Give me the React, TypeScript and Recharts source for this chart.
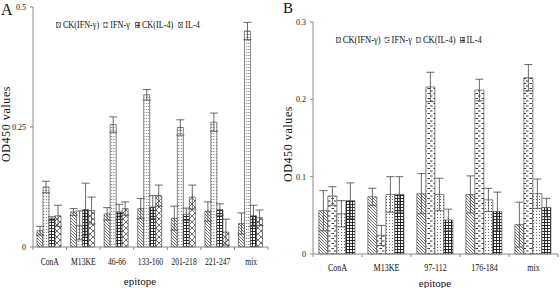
import React from 'react';
import { BarChart, Bar, XAxis, YAxis, ErrorBar } from 'recharts';

// panel A
const epitopeA = ['ConA', 'M13KE', '46-66', '133-160', '201-218', '221-247', 'mix'];
const ckIfnA = [0.034, 0.073, 0.069, 0.08, 0.06, 0.074, 0.049];
const ckIfnAErr = [0.009, 0.007, 0.013, 0.021, 0.025, 0.02, 0.022];
const ifnA = [0.125, 0.045, 0.255, 0.317, 0.249, 0.26, 0.45];
const ifnAErr = [0.012, 0.03, 0.016, 0.011, 0.016, 0.019, 0.018];
const ckIl4A = [0.059, 0.078, 0.073, 0.083, 0.068, 0.078, 0.065];
const ckIl4AErr = [0.004, 0.055, 0.016, 0.024, 0.013, 0.012, 0.022];
const il4A = [0.065, 0.076, 0.08, 0.107, 0.104, 0.031, 0.061];
const il4AErr = [0.022, 0.028, 0.014, 0.022, 0.025, 0.027, 0.016];
const ticksA = [0, 0.25, 0.5];

// panel B
const epitopeB = ['ConA', 'M13KE', '97-112', '176-184', 'mix'];
const ckIfnB = [0.056, 0.074, 0.078, 0.077, 0.038];
const ckIfnBErr = [0.026, 0.011, 0.026, 0.024, 0.029];
const ifnB = [0.075, 0.024, 0.216, 0.212, 0.228];
const ifnBErr = [0.012, 0.013, 0.019, 0.014, 0.017];
const ckIl4B = [0.052, 0.077, 0.077, 0.07, 0.078];
const ckIl4BErr = [0.017, 0.023, 0.021, 0.015, 0.019];
const il4B = [0.069, 0.077, 0.044, 0.055, 0.06];
const il4BErr = [0.023, 0.023, 0.014, 0.025, 0.012];
const ticksB = [0, 0.1, 0.2, 0.3];

const seriesNames = ['CK(IFN-\u03b3)', 'IFN-\u03b3', 'CK(IL-4)', 'IL-4'];

const dataA = epitopeA.map((name, i) => ({
  name,
  s1: ckIfnA[i], e1: ckIfnAErr[i],
  s2: ifnA[i], e2: ifnAErr[i],
  s3: ckIl4A[i], e3: ckIl4AErr[i],
  s4: il4A[i], e4: il4AErr[i],
}));

const dataB = epitopeB.map((name, i) => ({
  name,
  s1: ckIfnB[i], e1: ckIfnBErr[i],
  s2: ifnB[i], e2: ifnBErr[i],
  s3: ckIl4B[i], e3: ckIl4BErr[i],
  s4: il4B[i], e4: il4BErr[i],
}));

const FONT = '"Liberation Serif", "Times New Roman", serif';
const AXIS = '#8a8a8a';

const Patterns = () => (
  <defs>
    <pattern id="pHatch" width="3" height="3" patternUnits="userSpaceOnUse">
      <rect width="3" height="3" fill="#fff" />
      <path d="M0,0 L3,3 M-1,2 L1,4 M2,-1 L4,1" stroke="#333" strokeWidth="0.7" />
    </pattern>
    <pattern id="pDotsA" width="2.5" height="3" patternUnits="userSpaceOnUse">
      <rect width="2.5" height="3" fill="#fff" />
      <rect x="1" y="1" width="0.9" height="0.9" fill="#444" />
    </pattern>
    <pattern id="pGrid" width="3" height="3" patternUnits="userSpaceOnUse">
      <rect width="3" height="3" fill="#fff" />
      <path d="M0,0.5 H3 M0.5,0 V3" stroke="#1a1a1a" strokeWidth="0.9" />
    </pattern>
    <pattern id="pCross" width="6" height="6" patternUnits="userSpaceOnUse">
      <rect width="6" height="6" fill="#fff" />
      <path d="M0,0 L6,6 M6,0 L0,6" stroke="#333" strokeWidth="0.7" />
    </pattern>
    <pattern id="pDash" width="6" height="5" patternUnits="userSpaceOnUse">
      <rect width="6" height="5" fill="#fff" />
      <path d="M0,1 H2.5 M3.5,3.5 H6" stroke="#222" strokeWidth="0.9" />
    </pattern>
    <pattern id="pDotsB" width="3" height="3" patternUnits="userSpaceOnUse">
      <rect width="3" height="3" fill="#fff" />
      <rect x="1" y="1" width="0.9" height="0.9" fill="#444" />
    </pattern>
  </defs>
);

const fillsA = ['url(#pHatch)', 'url(#pDotsA)', 'url(#pGrid)', 'url(#pCross)'];
const fillsB = ['url(#pHatch)', 'url(#pDash)', 'url(#pDotsB)', 'url(#pGrid)'];

const makeTick = (band: number, labelDy: number, fontSize: number) => (props: any) => {
  const { x, y, payload, index } = props;
  return (
    <g>
      <line x1={x + band / 2} y1={y} x2={x + band / 2} y2={y + 3} stroke={AXIS} />
      {index === 0 && <line x1={x - band / 2} y1={y} x2={x - band / 2} y2={y + 3} stroke={AXIS} />}
      <text
        x={x}
        y={y + labelDy}
        textAnchor="middle"
        fontSize={fontSize}
        fontFamily={FONT}
        fill="#111"
        transform={`translate(${x * 0.2},0) scale(0.8,1)`}
      >
        {payload.value}
      </text>
    </g>
  );
};

const LegendBox = ({ fills, gaps, fontSize, left, top, squeeze }: any) => (
  <div
    style={{
      position: 'absolute', left, top, display: 'flex', alignItems: 'center', fontFamily: FONT, fontSize,
      color: '#111', whiteSpace: 'nowrap', transform: `scaleX(${squeeze})`, transformOrigin: 'left center',
    }}
  >
    {seriesNames.map((n, i) => (
      <span key={n} style={{ display: 'flex', alignItems: 'center', marginRight: gaps[i] }}>
        <svg width={6} height={6} style={{ marginRight: 2 }}>
          <rect x={0.5} y={0.5} width={5} height={5} fill={fills[i]} stroke="#333" strokeWidth={0.6} />
        </svg>
        <span>{n}</span>
      </span>
    ))}
  </div>
);

const Panel = ({ data, fills, ticks, max, top, right, bottom, tickDy, tickFont }: any) => {
  const plotW = 280 - 33 - right;
  const band = plotW / data.length;
  return (
    <BarChart width={280} height={288} data={data} margin={{ top, right, bottom: 0, left: 0 }} barGap={0} barCategoryGap="12%">
      <Patterns />
      <XAxis
        dataKey="name"
        height={bottom}
        stroke={AXIS}
        tickLine={false}
        tickSize={0}
        tickMargin={0}
        interval={0}
        tick={makeTick(band, tickDy, tickFont)}
      />
      <YAxis
        width={33}
        domain={[0, max]}
        ticks={ticks}
        stroke={AXIS}
        tickSize={3}
        tickMargin={4}
        tick={{ fontSize: 8, fontFamily: FONT, fill: '#111' }}
        tickFormatter={(v: number) => String(v)}
      />
      {['s1', 's2', 's3', 's4'].map((k, i) => (
        <Bar key={k} dataKey={k} fill={fills[i]} stroke="#333" strokeWidth={0.6} isAnimationActive={false}>
          <ErrorBar dataKey={`e${i + 1}`} width={4} stroke="#444" strokeWidth={0.8} />
        </Bar>
      ))}
    </BarChart>
  );
};

const textBase: React.CSSProperties = { position: 'absolute', fontFamily: FONT, color: '#111', whiteSpace: 'nowrap', lineHeight: 1 };

const App = () => (
  <div style={{ position: 'absolute', left: 0, top: 0, width: 560, height: 288, background: '#fff', overflow: 'hidden' }}>
    <div style={{ position: 'absolute', left: 0, top: 0 }}>
      <Panel data={dataA} fills={fillsA} ticks={ticksA} max={0.5} top={7} right={12} bottom={41} tickDy={18} tickFont={9.5} />
    </div>
    <div style={{ position: 'absolute', left: 280, top: 0 }}>
      <Panel data={dataB} fills={fillsB} ticks={ticksB} max={0.3} top={22} right={2} bottom={34} tickDy={17} tickFont={10} />
    </div>
    <LegendBox fills={fillsA} gaps={[5, 6, 6, 0]} fontSize={9.5} left={56} top={20} squeeze={0.86} />
    <LegendBox fills={fillsB} gaps={[5, 5, 5, 0]} fontSize={10} left={336} top={34} squeeze={0.85} />
    <div style={{ ...textBase, left: 1, top: 2, fontSize: 16 }}>A</div>
    <div style={{ ...textBase, left: 283, top: 1, fontSize: 15 }}>B</div>
    <div style={{ ...textBase, left: 6, top: 124, fontSize: 12, letterSpacing: 0.6, transform: 'translate(-50%,-50%) rotate(-90deg)' }}>
      OD450 values
    </div>
    <div style={{ ...textBase, left: 288, top: 144, fontSize: 12, letterSpacing: 0.6, transform: 'translate(-50%,-50%) rotate(-90deg)' }}>
      OD450 values
    </div>
    <div style={{ ...textBase, left: 140, top: 281, fontSize: 11, transform: 'translate(-50%,-50%)' }}>epitope</div>
    <div style={{ ...textBase, left: 435, top: 283, fontSize: 11, transform: 'translate(-50%,-50%)' }}>epitope</div>
  </div>
);

export default App;
